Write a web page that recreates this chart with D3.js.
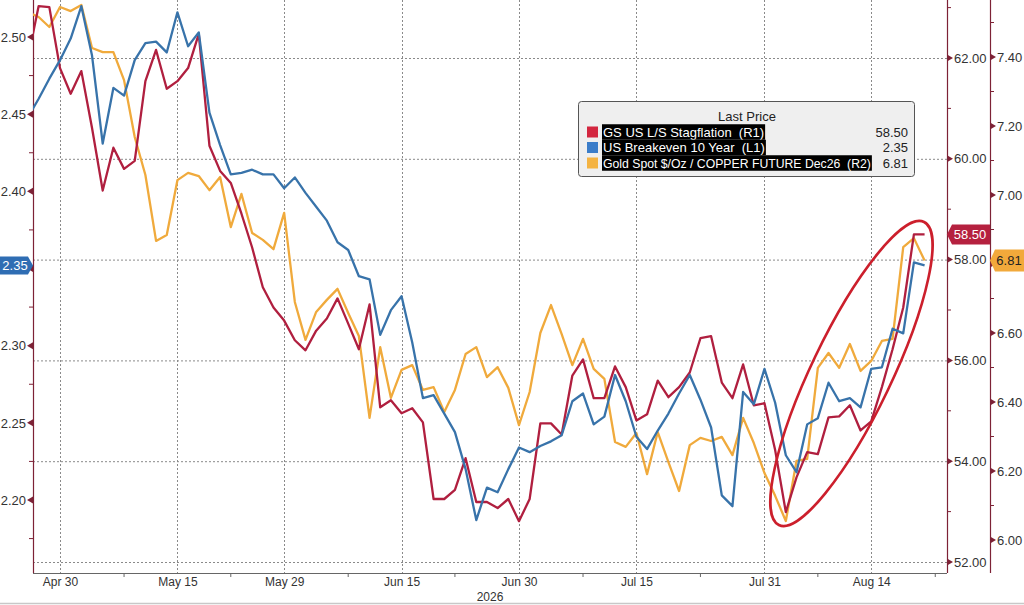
<!DOCTYPE html>
<html>
<head>
<meta charset="utf-8">
<script src="https://cdn.jsdelivr.net/npm/d3@7"></script>
<style>
  body { margin: 0; background: #fff; }
  svg { display: block; font-family: "Liberation Sans", Arial, sans-serif; }
</style>
</head>
<body>
<div id="chart"></div>
<script>
// business days Apr 27 .. Aug 21 2026 (index on x)
const dates = d3.timeDay.range(new Date(2026, 3, 27), new Date(2026, 7, 22))
    .filter(d => d.getDay() !== 0 && d.getDay() !== 6);

// GS US L/S Stagflation (R1)
const stagflation = [
    62.00, 63.03, 63.01, 61.80, 61.29, 61.74, 60.61, 59.37, 60.22, 59.80,
    59.96, 61.54, 62.16, 61.39, 61.54, 61.80, 62.48, 60.26, 59.76, 59.52,
    58.91, 58.24, 57.45, 57.05, 56.79, 56.40, 56.20, 56.59, 56.83, 57.23,
    56.73, 56.22, 57.11, 55.07, 55.21, 54.95, 55.05, 54.77, 53.25, 53.25,
    53.43, 54.06, 53.19, 53.19, 53.07, 53.25, 52.81, 53.25, 54.75, 54.75,
    54.53, 55.70, 56.02, 55.25, 55.25, 55.88, 55.47, 54.81, 54.93, 55.60,
    55.27, 55.47, 55.76, 56.44, 56.48, 55.56, 55.25, 55.92, 55.11, 55.15,
    54.22, 52.99, 53.68, 54.18, 54.14, 54.87, 54.89, 55.11, 54.61, 54.79,
    55.47, 56.22, 57.05, 58.50, 58.50
];

// US Breakeven 10 Year (L1)
const breakeven = [
    2.448, 2.460, 2.473, 2.485, 2.499, 2.520, 2.488, 2.431, 2.467, 2.462,
    2.485, 2.496, 2.497, 2.490, 2.516, 2.494, 2.503, 2.451, 2.430, 2.411,
    2.412, 2.414, 2.411, 2.411, 2.402, 2.409, 2.399, 2.390, 2.381, 2.367,
    2.362, 2.345, 2.343, 2.307, 2.323, 2.332, 2.302, 2.266, 2.268, 2.256,
    2.244, 2.220, 2.187, 2.208, 2.205, 2.220, 2.234, 2.231, 2.235, 2.238,
    2.242, 2.264, 2.269, 2.249, 2.254, 2.281, 2.264, 2.241, 2.233, 2.245,
    2.256, 2.269, 2.281, 2.265, 2.247, 2.203, 2.196, 2.270, 2.262, 2.285,
    2.263, 2.229, 2.218, 2.249, 2.253, 2.276, 2.264, 2.266, 2.260, 2.285,
    2.286, 2.311, 2.308, 2.354, 2.352
];

// Gold Spot $/Oz / COPPER FUTURE Dec26 (R2)
const goldCopper = [
    7.530, 7.516, 7.487, 7.545, 7.533, 7.551, 7.426, 7.414, 7.414, 7.333,
    7.168, 7.058, 6.867, 6.884, 7.043, 7.064, 7.055, 7.014, 7.052, 6.907,
    7.003, 6.890, 6.870, 6.843, 6.948, 6.690, 6.580, 6.661, 6.696, 6.728,
    6.658, 6.591, 6.354, 6.559, 6.412, 6.493, 6.507, 6.435, 6.443, 6.371,
    6.435, 6.539, 6.559, 6.472, 6.501, 6.441, 6.333, 6.429, 6.600, 6.681,
    6.597, 6.507, 6.583, 6.496, 6.467, 6.284, 6.270, 6.310, 6.191, 6.313,
    6.226, 6.142, 6.275, 6.296, 6.287, 6.299, 6.246, 6.354, 6.281, 6.194,
    6.128, 6.055, 6.229, 6.235, 6.499, 6.542, 6.499, 6.568, 6.490, 6.519,
    6.577, 6.583, 6.849, 6.875, 6.810
];

const tickLabels = ["Apr 30", "May 15", "May 29", "Jun 15", "Jun 30", "Jul 15", "Jul 31", "Aug 14"];
const tickIdx = [3, 14, 24, 35, 46, 57, 69, 79];
const minorTickIdx = [9, 19, 30, 40, 52, 63, 74, 85];
const leftTicks = [2.20, 2.25, 2.30, 2.35, 2.40, 2.45, 2.50];
const leftMinor = [2.175, 2.225, 2.275, 2.325, 2.375, 2.425, 2.475];
const r1Ticks = [52, 54, 56, 58, 60, 62];
const r1Minor = [53, 55, 57, 59, 61, 63];
const r2Ticks = [6.0, 6.2, 6.4, 6.6, 6.8, 7.0, 7.2, 7.4];
const r2Minor = [6.1, 6.3, 6.5, 6.7, 6.9, 7.1, 7.3, 7.5];
const legendNames = [
    "GS US L/S Stagflation  (R1)",
    "US Breakeven 10 Year  (L1)",
    "Gold Spot $/Oz / COPPER FUTURE Dec26  (R2)"
];
const lastValues = ["58.50", "2.35", "6.81"];

const colors = { red: "#b01f3f", blue: "#3873aa", gold: "#f0aa3c" };
const swatches = ["#d3263f", "#3b7dc9", "#f4b342"];
const axisColor = "#7d2236";

const plot = { left: 33, right: 947, top: 0, bottom: 573 };
const r2X = 990;

const svg = d3.select("#chart")
    .append("svg")
    .attr("width", 1024)
    .attr("height", 605);

const x = d3.scaleLinear().domain([0.47, 86.1]).range([plot.left, plot.right]);
const yL = d3.scaleLinear().domain([2.20, 2.50]).range([500, 37]);
const yR1 = d3.scaleLinear().domain([52, 62]).range([562, 58]);
const yR2 = d3.scaleLinear().domain([6.0, 7.4]).range([540, 57]);

svg.append("clipPath").attr("id", "clip")
    .append("rect")
    .attr("x", plot.left).attr("y", plot.top)
    .attr("width", plot.right - plot.left)
    .attr("height", plot.bottom - plot.top);

// grid
svg.append("g").selectAll("line")
    .data(r1Ticks)
    .join("line")
    .attr("x1", plot.left).attr("x2", plot.right)
    .attr("y1", d => yR1(d) + 0.5).attr("y2", d => yR1(d) + 0.5)
    .attr("stroke", "#8a8a8a").attr("stroke-dasharray", "2,2");
svg.append("g").selectAll("line")
    .data(tickIdx)
    .join("line")
    .attr("x1", d => Math.round(x(d)) + 0.5).attr("x2", d => Math.round(x(d)) + 0.5)
    .attr("y1", plot.top).attr("y2", plot.bottom)
    .attr("stroke", "#8a8a8a").attr("stroke-dasharray", "2,2");

// x axis
svg.append("line")
    .attr("x1", plot.left).attr("x2", plot.right)
    .attr("y1", plot.bottom + 0.5).attr("y2", plot.bottom + 0.5)
    .attr("stroke", "#666");
svg.append("g").selectAll("line")
    .data(minorTickIdx)
    .join("line")
    .attr("x1", d => x(d)).attr("x2", d => x(d))
    .attr("y1", plot.bottom).attr("y2", plot.bottom + 4)
    .attr("stroke", "#666");
const xAxis = svg.append("g")
    .attr("transform", `translate(0, ${plot.bottom})`)
    .call(d3.axisBottom(x).tickValues(tickIdx).tickFormat((d, i) => tickLabels[i]).tickSize(0).tickPadding(4.5));
xAxis.select(".domain").remove();
xAxis.selectAll("text").style("font-size", "12px").attr("fill", "#333");
svg.append("text")
    .attr("x", (plot.left + plot.right) / 2).attr("y", 601)
    .attr("text-anchor", "middle")
    .style("font-size", "12px").attr("fill", "#333")
    .text("2026");
svg.append("line")
    .attr("x1", 0).attr("x2", 1024).attr("y1", 603.5).attr("y2", 603.5)
    .attr("stroke", "#c8c8c8").attr("stroke-width", 1.5);

// y axes; labels under a last-value badge are left out (the badge covers them)
function drawAxis(xPos, scale, ticks, minor, side, hidden) {
    const dir = side === "left" ? -1 : 1;
    const g = svg.append("g").attr("transform", `translate(${xPos}, 0)`);
    g.append("line")
        .attr("x1", 0.5).attr("x2", 0.5).attr("y1", 0).attr("y2", plot.bottom)
        .attr("stroke", axisColor).attr("stroke-width", 1.2);
    g.selectAll(".minor")
        .data(minor)
        .join("line")
        .attr("class", "minor")
        .attr("x1", 0).attr("x2", 4 * dir)
        .attr("y1", d => scale(d)).attr("y2", d => scale(d))
        .attr("stroke", axisColor);
    g.selectAll(".mark")
        .data(ticks)
        .join("path")
        .attr("class", "mark")
        .attr("d", d => `M${6 * dir},${scale(d)} L0,${scale(d) - 3.5} L0,${scale(d) + 3.5} Z`)
        .attr("fill", axisColor);
    const axis = side === "left" ? d3.axisLeft(scale) : d3.axisRight(scale);
    const a = g.append("g")
        .call(axis.tickValues(ticks.filter(t => t !== hidden)).tickFormat(d3.format(".2f")).tickSize(0).tickPadding(7));
    a.select(".domain").remove();
    a.selectAll("text").style("font-size", "13px").attr("fill", "#333");
}
drawAxis(plot.left, yL, leftTicks, leftMinor, "left", 2.35);
drawAxis(plot.right, yR1, r1Ticks, r1Minor, "right", null);
drawAxis(r2X, yR2, r2Ticks, r2Minor, "right", 6.8);

// lines
const lines = svg.append("g").attr("clip-path", "url(#clip)");
const series = [
    { data: goldCopper, scale: yR2, color: colors.gold },
    { data: stagflation, scale: yR1, color: colors.red },
    { data: breakeven, scale: yL, color: colors.blue }
];
series.forEach(s => {
    lines.append("path")
        .datum(s.data)
        .attr("fill", "none")
        .attr("stroke", s.color)
        .attr("stroke-width", 2.3)
        .attr("stroke-linejoin", "round")
        .attr("d", d3.line().x((d, i) => x(i)).y(d => s.scale(d)));
});

// annotation ellipse around the latest move
const ecx = x(77.15), ecy = yR1(55.74);
svg.append("ellipse")
    .attr("cx", 0).attr("cy", 0).attr("rx", 168).attr("ry", 40)
    .attr("transform", `translate(${ecx}, ${ecy}) rotate(-64.4)`)
    .attr("fill", "none")
    .attr("stroke", "#cc1f2c")
    .attr("stroke-width", 2.6);

// last value badges
function badge(pts, fill, label, tx, ty, textColor) {
    svg.append("path")
        .attr("d", d3.line()(pts) + "Z")
        .attr("fill", fill);
    svg.append("text")
        .attr("x", tx).attr("y", ty + 4.5)
        .attr("text-anchor", "middle")
        .style("font-size", "13px")
        .attr("fill", textColor)
        .text(label);
}
const yb = yL(breakeven[breakeven.length - 1]);
badge([[0, yb - 9], [28, yb - 9], [33, yb], [28, yb + 9], [0, yb + 9]], "#2f6db3", lastValues[1], 15, yb, "#fff");
const yr = yR1(stagflation[stagflation.length - 1]);
badge([[plot.right, yr], [plot.right + 5, yr - 10], [r2X, yr - 10], [r2X, yr + 10], [plot.right + 5, yr + 10]], "#b5213f", lastValues[0], 970, yr, "#fff");
const yg = yR2(goldCopper[goldCopper.length - 1]);
badge([[r2X, yg], [r2X + 5, yg - 11], [1024, yg - 11], [1024, yg + 11], [r2X + 5, yg + 11]], "#f2a93b", lastValues[2], 1009, yg, "#222");

// legend
const legend = svg.append("g");
legend.append("rect")
    .attr("x", 578.5).attr("y", 101.5).attr("width", 336).attr("height", 75)
    .attr("rx", 3)
    .attr("fill", "#efefef").attr("stroke", "#555");
legend.append("text")
    .attr("x", 747).attr("y", 121)
    .attr("text-anchor", "middle")
    .style("font-size", "13px").attr("fill", "#222")
    .text("Last Price");
const rowY = [132, 147.5, 163];
legendNames.forEach((name, i) => {
    const cy = rowY[i];
    legend.append("rect")
        .attr("x", 587).attr("y", cy - 5.5).attr("width", 11).attr("height", 11)
        .attr("fill", swatches[i]);
    const bg = legend.append("rect").attr("fill", "#000");
    const t = legend.append("text")
        .attr("x", 603).attr("y", cy + 4.5)
        .style("font-size", "13px").style("white-space", "pre")
        .attr("fill", "#fff")
        .text(name);
    let w = t.node().getComputedTextLength();
    if (w > 270) {
        // long row: shrink the font so it ends before the value column
        t.style("font-size", (13 * 268 / w).toFixed(2) + "px");
        w = t.node().getComputedTextLength();
    }
    bg.attr("x", 602).attr("y", cy - 7.75).attr("width", w + 2).attr("height", 15.5);
    legend.append("text")
        .attr("x", 908).attr("y", cy + 4.5)
        .attr("text-anchor", "end")
        .style("font-size", "13px").attr("fill", "#222")
        .text(lastValues[i]);
});
</script>
</body>
</html>
